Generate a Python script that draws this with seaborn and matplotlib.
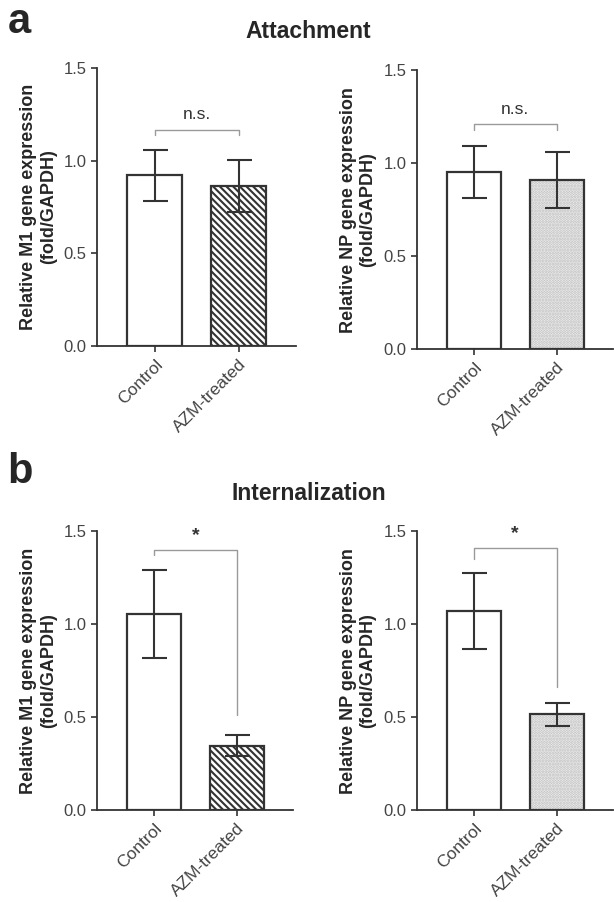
import numpy as np
import pandas as pd
import matplotlib
matplotlib.use("Agg")
import matplotlib.pyplot as plt
import seaborn as sns

# data
groups = ["Control", "AZM-treated"]

att_m1_mean = [0.92, 0.865]
att_m1_sem = [0.135, 0.14]
att_np_mean = [0.955, 0.91]
att_np_sem = [0.14, 0.15]

int_m1_mean = [1.055, 0.345]
int_m1_sem = [0.235, 0.057]
int_np_mean = [1.07, 0.515]
int_np_sem = [0.205, 0.062]

sig_labels = ["n.s.", "n.s.", "*", "*"]
bracket_top = [1.165, 1.21, 1.40, 1.41]
bracket_left = [1.14, 1.18, 1.37, 1.35]
bracket_right = [1.14, 1.18, 0.51, 0.66]

ylabels = ["Relative M1 gene expression\n(fold/GAPDH)",
           "Relative NP gene expression\n(fold/GAPDH)"]

sns.set_style("ticks")
plt.rcParams['font.family'] = ['Liberation Sans', 'DejaVu Sans']
plt.rcParams['hatch.linewidth'] = 1.5

fig = plt.figure(figsize=(6.14, 9.02), dpi=100)

# axes boxes (left, bottom, width, height) in figure fraction
boxes = [
    [0.158, 0.616, 0.324, 0.309],
    [0.679, 0.613, 0.319, 0.309],
    [0.158, 0.102, 0.319, 0.309],
    [0.679, 0.102, 0.319, 0.309],
]
panels = [
    (att_m1_mean, att_m1_sem, 0),
    (att_np_mean, att_np_sem, 1),
    (int_m1_mean, int_m1_sem, 0),
    (int_np_mean, int_np_sem, 1),
]

dark = "#333333"
bar_w = 0.655

for i, (means, sems, kind) in enumerate(panels):
    ax = fig.add_axes(boxes[i])
    df = pd.DataFrame({"group": groups, "value": means})
    sns.barplot(data=df, x="group", y="value", ax=ax, color="white",
                edgecolor=dark, linewidth=1.6, width=bar_w, errorbar=None)
    treated = ax.patches[1]
    if kind == 0:
        treated.set_facecolor("white")
        treated.set_hatch("\\" * 5)
    else:
        # light dotted fill, then a dark outline on top
        treated.set_facecolor("#f6f6f6")
        treated.set_edgecolor("#bbbbbb")
        treated.set_linewidth(0)
        treated.set_hatch("." * 6)
        ax.bar(x=[1], height=[means[1]], width=bar_w, fill=False,
               edgecolor=dark, linewidth=1.6)
    ax.errorbar(x=np.arange(len(groups)), y=means, yerr=sems, fmt="none",
                ecolor=dark, elinewidth=1.5, capsize=9, capthick=1.5)

    # significance bracket
    ax.plot([0, 0, 1, 1],
            [bracket_left[i], bracket_top[i], bracket_top[i], bracket_right[i]],
            color="#9a9a9a", lw=1.0)
    ns = sig_labels[i] == "n.s."
    ax.text(0.5, bracket_top[i] + (0.04 if ns else 0.03), sig_labels[i],
            ha="center", va="bottom", fontsize=12.5 if ns else 14,
            color=dark, fontweight="normal" if ns else "bold")

    ax.set_ylim(0, 1.5)
    ax.set_xlim(-0.69, 1.68)
    ax.set_yticks([0.0, 0.5, 1.0, 1.5])
    ax.set_yticklabels(["0.0", "0.5", "1.0", "1.5"])
    ax.set_xlabel("")
    ax.set_ylabel(ylabels[kind], fontsize=13, fontweight="bold",
                  linespacing=1.2, labelpad=5)
    ax.tick_params(axis="both", colors=dark, labelcolor="#444444",
                   labelsize=12, width=1.2, length=4, direction="out")
    ax.set_xticks(range(len(groups)))
    ax.set_xticklabels(groups, rotation=45, ha="right",
                       rotation_mode="anchor", fontsize=12.5)
    for side in ["top", "right"]:
        ax.spines[side].set_visible(False)
    for side in ["left", "bottom"]:
        ax.spines[side].set_color(dark)
        ax.spines[side].set_linewidth(1.3)

fig.text(0.012, 0.963, "a", fontsize=30, fontweight="bold", va="baseline")
fig.text(0.012, 0.4645, "b", fontsize=30, fontweight="bold", va="baseline")
fig.text(0.502, 0.958, "Attachment", fontsize=16.5, fontweight="bold",
         ha="center", va="baseline")
fig.text(0.503, 0.4457, "Internalization", fontsize=16.5, fontweight="bold",
         ha="center", va="baseline")

fig.savefig("out.png", dpi=100)
